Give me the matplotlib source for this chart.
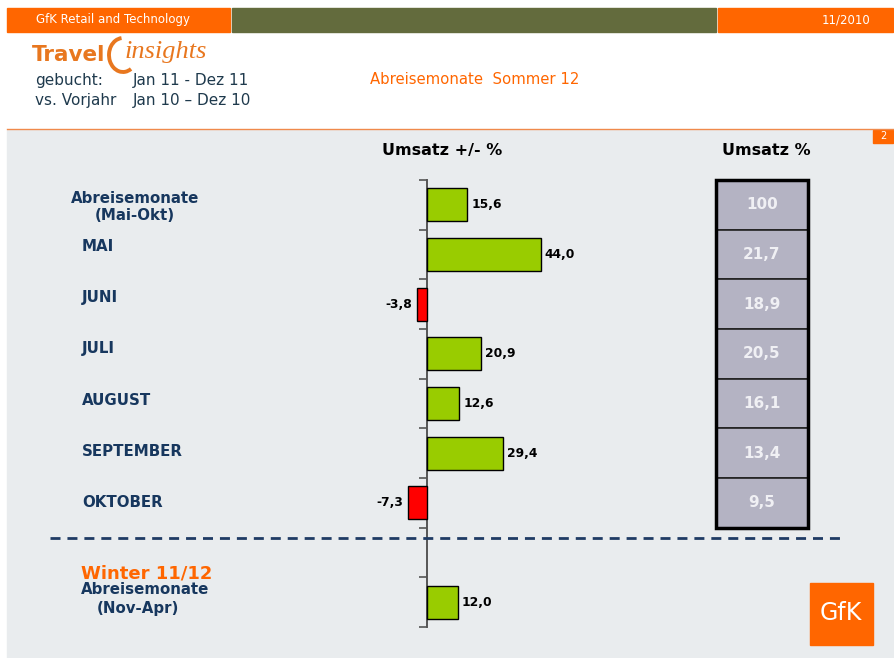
import numpy as np
import matplotlib.pyplot as plt
import matplotlib.transforms as mtransforms
from matplotlib.patches import Rectangle, Arc
from matplotlib.lines import Line2D

# Daten
categories = ['Abreisemonate\n(Mai-Okt)', 'MAI', 'JUNI', 'JULI', 'AUGUST', 'SEPTEMBER', 'OKTOBER']
change = [15.6, 44.0, -3.8, 20.9, 12.6, 29.4, -7.3]
share = [100, 21.7, 18.9, 20.5, 16.1, 13.4, 9.5]
winter_change = 12.0

ORANGE = '#FF6600'
NAVY = '#17375E'
GREEN = '#99CC00'
RED = '#FF0000'

plt.rcParams['font.family'] = ['DejaVu Sans']

W, H = 895, 658
fig = plt.figure(figsize=(W / 100, H / 100), dpi=100)


def fx(px):
    return px / W


def fy(py):
    return 1 - py / H


# Hintergrund / Kopfzeile
fig.add_artist(Rectangle((fx(7), 0), fx(893) - fx(7), fy(130), color='#E9ECEE',
                         transform=fig.transFigure, zorder=0))
fig.add_artist(Rectangle((fx(7), fy(32)), fx(230) - fx(7), 24 / H, color=ORANGE,
                         transform=fig.transFigure))
fig.add_artist(Rectangle((fx(232), fy(32)), fx(716) - fx(232), 24 / H, color='#636B3D',
                         transform=fig.transFigure))
fig.add_artist(Rectangle((fx(718), fy(32)), fx(893) - fx(718), 24 / H, color=ORANGE,
                         transform=fig.transFigure))
fig.text(fx(36), fy(20), 'GfK Retail and Technology', color='white', fontsize=8.5,
         va='center')
fig.text(fx(870), fy(20), '11/2010', color='white', fontsize=8.5, va='center', ha='right')
fig.add_artist(Line2D([fx(7), fx(893)], [fy(129), fy(129)], color='#F08A4B', lw=1))
fig.add_artist(Rectangle((fx(873), fy(143)), fx(893) - fx(873), 13 / H, color=ORANGE,
                         transform=fig.transFigure))
fig.text(fx(883), fy(136), '2', color='white', fontsize=7, ha='center', va='center')

# Logo Travel insights
fig.text(fx(32), fy(55), 'Travel', color='#E8771F', fontsize=15.5, fontweight='bold',
         va='center')
fig.add_artist(Arc((1.23, (H - 55) / 100), 0.28, 0.34, theta1=95, theta2=300,
                   transform=fig.dpi_scale_trans, color='#E8771F', lw=2.8))
fig.text(fx(125), fy(52), 'insights', color='#E8771F', fontsize=19, style='italic',
         va='center', family=['Liberation Serif', 'DejaVu Serif'])

fig.text(fx(35), fy(80), 'gebucht:', color='#1F3A4D', fontsize=11, va='center')
fig.text(fx(133), fy(80), 'Jan 11 - Dez 11', color='#1F3A4D', fontsize=11, va='center')
fig.text(fx(35), fy(101), 'vs. Vorjahr', color='#1F3A4D', fontsize=11, va='center')
fig.text(fx(133), fy(101), 'Jan 10 \u2013 Dez 10', color='#1F3A4D', fontsize=11, va='center')
fig.text(fx(370), fy(79), 'Abreisemonate  Sommer 12', color=ORANGE, fontsize=10.7, va='center')

# Balkendiagramm
ax = fig.add_axes([fx(340), fy(627), fx(600) - fx(340), (627 - 180) / H])
ax.patch.set_visible(False)
ax.set_xlim(-33.7, 67.05)
ax.set_ylim(8.5, -0.5)
for s in ['top', 'right', 'bottom']:
    ax.spines[s].set_visible(False)
ax.spines['left'].set_position(('data', 0))
ax.spines['left'].set_color('#555555')
ax.spines['left'].set_linewidth(1.4)
ax.set_xticks([])
ax.set_yticks(np.arange(-0.5, 9, 1))
ax.set_yticklabels([])
ax.tick_params(axis='y', length=6, width=1.2, color='#555555', direction='out')

rows = np.arange(len(change))
colors = [GREEN if v >= 0 else RED for v in change]
ax.barh(rows, change, height=0.66, color=colors, edgecolor='black', linewidth=1, zorder=3)
ax.barh([8], [winter_change], height=0.66, color=GREEN, edgecolor='black', linewidth=1, zorder=3)

for r, v in zip(list(rows) + [8], change + [winter_change]):
    lab = f'{v:.1f}'.replace('.', ',')
    if v >= 0:
        ax.text(v + 1.5, r, lab, ha='left', va='center', fontsize=8.8, fontweight='bold')
    else:
        ax.text(v - 2, r, lab, ha='right', va='center', fontsize=8.8, fontweight='bold')

# Beschriftungen
trans = mtransforms.blended_transform_factory(fig.transFigure, ax.transData)
ax.text(fx(135), 0.04, categories[0], transform=trans, ha='center', va='center',
        multialignment='center', color=NAVY, fontsize=10.8, fontweight='bold', linespacing=1.2)
for r, c in zip(rows[1:], categories[1:]):
    ax.text(fx(82), r - 0.19 + 0.03 * r, c, transform=trans, ha='left', va='center',
            color=NAVY, fontsize=10.8, fontweight='bold')

fig.text(fx(147), fy(573), 'Winter 11/12', color=ORANGE, fontsize=13, fontweight='bold',
         ha='center', va='center')
fig.text(fx(145), fy(590), 'Abreisemonate', color=NAVY, fontsize=10.8, fontweight='bold',
         ha='center', va='center')
fig.text(fx(138), fy(608), '(Nov-Apr)', color=NAVY, fontsize=10.8, fontweight='bold',
         ha='center', va='center')

fig.text(fx(442), fy(150), 'Umsatz +/- %', fontsize=11.5, fontweight='bold', ha='center', va='center')
fig.text(fx(766), fy(150), 'Umsatz %', fontsize=11.5, fontweight='bold', ha='center', va='center')

# Trennlinie
fig.add_artist(Line2D([fx(50), fx(842)], [fy(538), fy(538)], color='#1F3B64', lw=2,
                      dashes=(3.6, 2.5)))

# Tabelle Umsatz %
ax2 = fig.add_axes([fx(716), fy(627), fx(808) - fx(716), (627 - 180) / H])
ax2.set_xlim(0, 1)
ax2.set_ylim(8.5, -0.5)
ax2.axis('off')
cells = ax2.barh(np.arange(len(share)), 1, height=1, left=0, color='#B4B3C3',
                 edgecolor='#222222', linewidth=1.2)
for p in cells:
    p.set_clip_on(False)
ax2.add_patch(Rectangle((0, -0.5), 1, len(share), fill=False, edgecolor='black', lw=2.5,
                        clip_on=False))
for r, v in enumerate(share):
    ax2.text(0.5, r, f'{v:g}'.replace('.', ','), ha='center', va='center', color='#F0F0F4',
             fontsize=11, fontweight='bold')

# GfK Logo
fig.add_artist(Rectangle((fx(810), fy(645)), fx(873) - fx(810), 62 / H, color=ORANGE,
                         transform=fig.transFigure))
fig.text(fx(841), fy(613), 'GfK', color='white', fontsize=17, ha='center', va='center')

fig.savefig('out.png', dpi=100, facecolor='white')
